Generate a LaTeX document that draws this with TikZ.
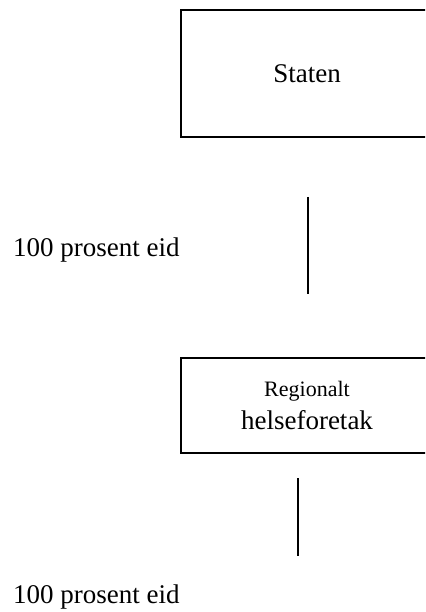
\documentclass[tikz,border=0pt]{standalone}
\usepackage{fontspec}
\setmainfont{Liberation Serif}
\usepackage{tikz}
\usetikzlibrary{
	positioning
}
\tikzset{
	eierboks/.style={draw, line width=1.2pt, inner sep=0pt, align=center, font=\fontsize{27}{33}\selectfont},
	eierlinje/.style={line width=1.5pt},
	eierandel/.style={anchor=west, inner sep=0pt, font=\fontsize{27}{33}\selectfont}
}
\begin{document}
\begin{tikzpicture}[x=1pt, y=-1pt]
		\useasboundingbox (0,0) rectangle (425,612);
		\clip (0,0) rectangle (425,612);
		
		% 方框
		\node[eierboks, minimum width=252pt, minimum height=127pt] (staten) at (307,73.5) {Staten};
		\node[eierboks, minimum width=252pt, minimum height=95pt] (rhf) at (307,405.5) {{\fontsize{22}{28}\selectfont Regionalt}\\helseforetak};
		
		% 竖线
		\coordinate (linje1a) at (308,197);
		\coordinate (linje1b) at (308,294);
		\coordinate (linje2a) at (298,478);
		\coordinate (linje2b) at (298,556);
		\draw[eierlinje] (linje1a) -- (linje1b);
		\draw[eierlinje] (linje2a) -- (linje2b);
		
		% 标注
		\node[eierandel] (andel1) at (13,250) {100 prosent eid};
		\node[eierandel] (andel2) at (13,597) {100 prosent eid};
	\end{tikzpicture}
\end{document}
